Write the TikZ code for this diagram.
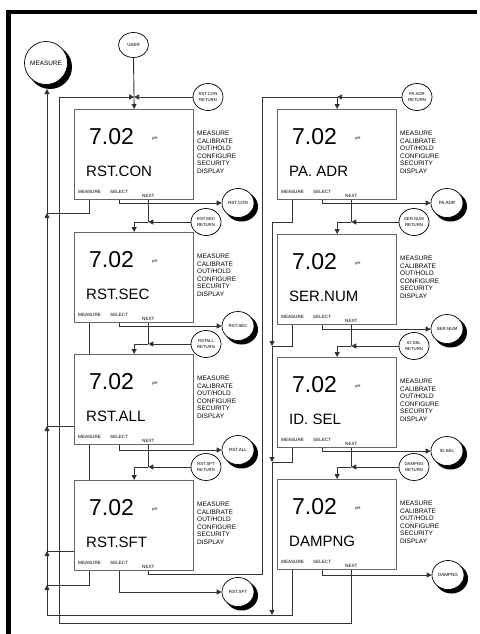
\documentclass[tikz,border=0pt]{standalone}
\usepackage{fontspec}
\setmainfont{Liberation Sans}
\usetikzlibrary{arrows.meta,shapes.geometric,calc,backgrounds}

\tikzset{
 conn/.style={draw=black!80, line width=0.9pt},
 arr/.style={-{Triangle[length=5pt,width=5pt]}},
 lcdbox/.style={draw=black!60, line width=1.3pt, fill=white, minimum width=119pt, minimum height=90pt, inner sep=0, anchor=north west},
 bigtxt/.style={font=\fontsize{23}{23}\selectfont, inner sep=0, anchor=west},
 nmtxt/.style={font=\fontsize{15}{15}\selectfont, inner sep=0, anchor=west},
 phtxt/.style={font=\fontsize{4}{4}\selectfont, inner sep=0},
 menutxt/.style={font=\fontsize{6.5}{7.6}\selectfont, inner sep=0, align=left, anchor=north west},
 lbltxt/.style={font=\fontsize{4.6}{4.6}\selectfont, inner sep=0, anchor=west},
 retc/.style={ellipse, draw, line width=0.7pt, fill=white, minimum width=30pt, minimum height=27pt, inner sep=0, align=center, font=\fontsize{4.3}{5.2}\selectfont},
 actc/.style={ellipse, draw, line width=0.7pt, fill=white, minimum width=32pt, minimum height=29pt, inner sep=0, align=center, font=\fontsize{4.5}{5.2}\selectfont},
 mcirc/.style={circle, draw, line width=0.7pt, fill=white, minimum size=43pt, inner sep=0, font=\fontsize{6.4}{6.4}\selectfont},
 userc/.style={ellipse, draw, line width=0.7pt, fill=white, minimum width=30pt, minimum height=25pt, inner sep=0, font=\fontsize{4.5}{4.5}\selectfont},
 shadowfill/.style={fill=black},
}

\newcommand\lcdpanel[4]{%
 \node[lcdbox] (#1) at (#2,#3) {};
 \node[bigtxt] (#1-v) at ($(#1.north west)+(15,28)$) {7.02};
 \node[phtxt] (#1-p) at ($(#1.north west)+(81,30)$) {pH};
 \node[nmtxt] (#1-n) at ($(#1.north west)+(12,62)$) {#4};
 \node[menutxt] (#1-l) at ($(#1.north west)+(123,21.7)$) {MEASURE\\CALIBRATE\\OUT/HOLD\\CONFIGURE\\SECURITY\\DISPLAY};
 \node[lbltxt] (#1-m) at ($(#1.north west)+(4,83)$) {MEASURE};
 \node[lbltxt] (#1-s) at ($(#1.north west)+(36,83)$) {SELECT};
 \node[lbltxt] (#1-x) at ($(#1.north west)+(68,87)$) {NEXT};
}

\begin{document}
\begin{tikzpicture}[x=1pt,y=-1pt]
\useasboundingbox (0,0) rectangle (479,634);
% frame
\fill[black] (6,10) rectangle (477,14.5);
\fill[black] (6,10) rectangle (10.5,634);

% circles
\node[mcirc] (meas) at (46,63) {MEASURE};
\node[userc] (user) at (133.5,45) {USER};
\node[retc] (rr0) at (208,97) {RST.CON\\RETURN};
\node[retc] (rr1) at (206,222) {RST.SEC\\RETURN};
\node[retc] (rr2) at (206,344) {RSTALL\\RETURN};
\node[retc] (rr3) at (206,467) {RST.SFT\\RETURN};
\node[retc] (rr4) at (417,97) {PA.ADR\\RETURN};
\node[retc] (rr5) at (414,222) {SER.NUM\\RETURN};
\node[retc] (rr6) at (414,346) {ID.SEL\\RETURN};
\node[retc] (rr7) at (414,467) {DAMPNG\\RETURN};
\node[actc] (ac1) at (238,203) {RST.CON};
\node[actc] (ac2) at (238,326) {RST.SEC};
\node[actc] (ac3) at (238,450) {RST.ALL};
\node[actc] (ac4) at (238,592) {RST.SFT};
\node[actc] (ac5) at (447,203) {PA.ADR};
\node[actc] (ac6) at (447,329) {SER.NUM};
\node[actc] (ac7) at (447,451) {ID.SEL};
\node[actc] (ac8) at (448,575) {DAMPNG};

% panels
\lcdpanel{b1}{74}{109}{RST.CON}
\lcdpanel{b2}{74}{232}{RST.SEC}
\lcdpanel{b3}{74}{354}{RST.ALL}
\lcdpanel{b4}{74}{480}{RST.SFT}
\lcdpanel{b5}{277}{109}{PA. ADR}
\lcdpanel{b6}{277}{234}{SER.NUM}
\lcdpanel{b7}{277}{357}{ID. SEL}
\lcdpanel{b8}{277}{479}{DAMPNG}

% junction coordinates
\coordinate (m1) at (47,213);
\coordinate (m2) at (47,426);
\coordinate (m3) at (47,551);
\coordinate (m4) at (47,585);
\coordinate (mb) at (47,615);
\coordinate (r0) at (272,222);
\coordinate (r1) at (272,346);
\coordinate (r2) at (272,462);
\coordinate (r3) at (272,615);
\coordinate (lb) at (59,623);
\coordinate (lt) at (59,97);
\coordinate (k1) at (262,574);
\coordinate (k2) at (262,97);
\coordinate (j1) at (b1.north |- rr0.west);
\coordinate (j5) at (b5.north |- rr4.west);
\coordinate (mtip) at (47,89);

\begin{scope}[on background layer]
\fill[white] (0,0) rectangle (479,634);
\fill[black] (6,10) rectangle (477,14.5);
\fill[black] (6,10) rectangle (10.5,634);
% shadows
\fill[shadowfill] ([shift={(4,4)}]meas.center) circle [radius=22];
\fill[shadowfill] ([shift={(3.5,3.5)}]ac1.center) ellipse [x radius=16.5, y radius=15];
\fill[shadowfill] ([shift={(3.5,3.5)}]ac2.center) ellipse [x radius=16.5, y radius=15];
\fill[shadowfill] ([shift={(3.5,3.5)}]ac3.center) ellipse [x radius=16.5, y radius=15];
\fill[shadowfill] ([shift={(3.5,3.5)}]ac4.center) ellipse [x radius=16.5, y radius=15];
\fill[shadowfill] ([shift={(3.5,3.5)}]ac5.center) ellipse [x radius=16.5, y radius=15];
\fill[shadowfill] ([shift={(3.5,3.5)}]ac6.center) ellipse [x radius=16.5, y radius=15];
\fill[shadowfill] ([shift={(3.5,3.5)}]ac7.center) ellipse [x radius=16.5, y radius=15];
\fill[shadowfill] ([shift={(3.5,3.5)}]ac8.center) ellipse [x radius=16.5, y radius=15];
% top entries
\draw[conn,arr] (user.south) -- (b1.north);
\draw[conn,arr] (rr0.west) -- (j1);
\draw[conn,arr] (b8-x.center |- b8.south) |- (lb) -- (lt) -- (j1);
\draw[conn] (b4-x.center |- b4.south) |- (k1) -- (k2) -- (j5);
\draw[conn,arr] (rr4.west) -- (j5);
\draw[conn,arr] (j5) -- (b5.north);
% select and next chains
\foreach \i/\j in {1/2,2/3,3/4,5/6,6/7,7/8} {
 \draw[conn,arr] (b\i-s.center |- b\i.south) |- (ac\i.west);
 \draw[conn] (b\i-x.center |- b\i.south) -- (b\i-x.center |- rr\i.west);
 \draw[conn,arr] (rr\i.west) -- (b\i-x.center |- rr\i.west);
 \draw[conn,arr] (b\i-x.center |- rr\i.west) -| (b\j.north);
}
\draw[conn,arr] (b4-s.center |- b4.south) |- (ac4.west);
\draw[conn,arr] (b8-s.center |- b8.south) |- (ac8.west);
% measure returns, left
\draw[conn] (b1-m.center |- b1.south) |- (m1);
\draw[conn] (b2-m.center |- b2.south) |- (m2);
\draw[conn] (b3-m.center |- b3.south) |- (m3);
\draw[conn] (b4-m.center |- b4.south) |- (m4);
% measure returns, right
\draw[conn] (b5-m.center |- b5.south) |- (r0);
\draw[conn] (b6-m.center |- b6.south) |- (r1);
\draw[conn] (b7-m.center |- b7.south) |- (r2);
\draw[conn] (b8-m.center |- b8.south) |- (mb);
\draw[conn,arr] (r0) -- (r1);
\draw[conn,arr] (r1) -- (r2);
\draw[conn,arr] (r2) -- (r3);
\draw[conn,arr] (mb) -- (m4);
\draw[conn,arr] (m4) -- (m3);
\draw[conn,arr] (m3) -- (m2);
\draw[conn,arr] (m2) -- (m1);
\draw[conn,arr] (m1) -- (mtip);
\end{scope}
\end{tikzpicture}
\end{document}
